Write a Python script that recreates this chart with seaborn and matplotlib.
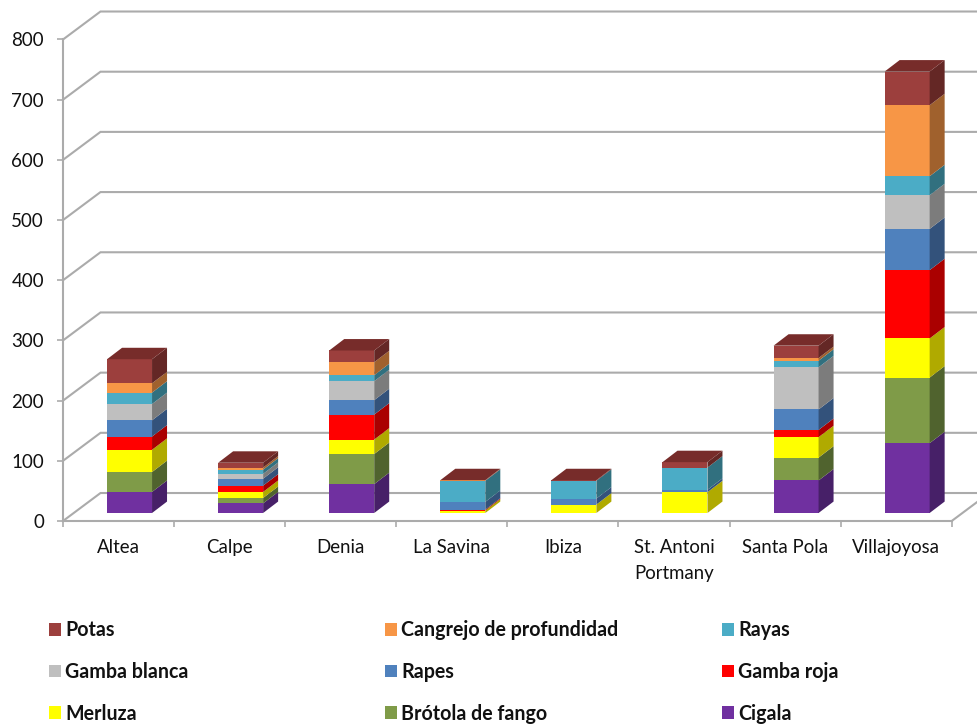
import numpy as np
import matplotlib
matplotlib.use("Agg")
import matplotlib.pyplot as plt
from matplotlib.patches import Patch, Polygon
import seaborn as sns

ports = ["Altea", "Calpe", "Denia", "La Savina", "Ibiza",
         "St. Antoni\nPortmany", "Santa Pola", "Villajoyosa"]

cigala = [35, 16, 48, 0, 0, 0, 54, 116]
brotola = [33, 9, 50, 0, 0, 0, 38, 109]
merluza = [37, 10, 24, 4, 14, 34.5, 34, 65]
gamba_roja = [22, 10.5, 41.5, 1.5, 0, 0, 12, 113.5]
rapes = [27, 11.5, 24, 13, 10, 4, 34, 68.5]
gamba_blanca = [27, 8, 31.5, 0, 0, 0, 70, 56]
rayas = [19, 7, 10, 35, 29.5, 37, 11, 31.5]
cangrejo = [15.5, 3.5, 21.5, 0.5, 0, 0, 4.5, 118]
potas = [40, 8, 19.5, 0.5, 1, 9, 20.5, 56]

# name, values, front colour, side colour (stacked bottom to top)
stack = [
    ("Cigala", cigala, "#7030A0", "#472068"),
    ("Brótola de fango", brotola, "#7F9B48", "#50632E"),
    ("Merluza", merluza, "#FFFF00", "#B0AA00"),
    ("Gamba roja", gamba_roja, "#FF0000", "#AA0000"),
    ("Rapes", rapes, "#4F81BD", "#33527B"),
    ("Gamba blanca", gamba_blanca, "#BFBFBF", "#7C7C7C"),
    ("Rayas", rayas, "#4BACC6", "#31707F"),
    ("Cangrejo de profundidad", cangrejo, "#F79646", "#A0612D"),
    ("Potas", potas, "#9C3F3D", "#642725"),
]
top_colour = "#772C2A"
legend_columns = [
    ["Potas", "Gamba blanca", "Merluza"],
    ["Cangrejo de profundidad", "Rapes", "Brótola de fango"],
    ["Rayas", "Gamba roja", "Cigala"],
]

sns.set_theme(style="white")
plt.rcParams["font.family"] = ["Lato", "DejaVu Sans"]

W, H = 977, 727
fig = plt.figure(figsize=(W / 100, H / 100), dpi=100)
ax = fig.add_axes([63 / W, 1 - 521 / H, 888.7 / W, 481.5 / H])
GRID = "#ABABAB"

# Pseudo-3D geometry in data units
WALL_DX, WALL_DY = 0.3375, 46.5
BAR_DX, BAR_DY = 0.135, 19.0
BAR_W = 0.405
BAR_SHIFT = 0.099
BAR_BASE = 13.3
x_right_edge = 7.5 + 26 / 111.1

# Back wall and floor lines
for v in range(0, 900, 100):
    ax.plot([-0.5, -0.5 + WALL_DX, x_right_edge], [v, v + WALL_DY, v + WALL_DY],
            color=GRID, lw=1.5, clip_on=False, zorder=1, solid_joinstyle="miter")
ax.plot([7.5, x_right_edge], [0, 26 * WALL_DY / (WALL_DX * 111.1)], color=GRID, lw=1.5,
        clip_on=False, zorder=1)

# Stacked front faces through seaborn, side faces and caps on top of them
xpos = np.arange(len(ports)) + BAR_SHIFT
bottom = np.full(len(ports), BAR_BASE)
for name, values, front, side in stack:
    vals = np.array(values, dtype=float)
    sns.barplot(x=xpos, y=vals, bottom=bottom, native_scale=True, width=BAR_W,
                color=front, saturation=1, errorbar=None, linewidth=0, ax=ax, zorder=3)
    for x0, b, v in zip(xpos, bottom, vals):
        if v <= 0:
            continue
        xr = x0 + BAR_W / 2
        ax.add_patch(Polygon([(xr, b), (xr + BAR_DX, b + BAR_DY),
                              (xr + BAR_DX, b + v + BAR_DY), (xr, b + v)],
                             closed=True, fc=side, ec="none", zorder=3))
    bottom = bottom + vals

for x0, t in zip(xpos, bottom):
    xl, xr = x0 - BAR_W / 2, x0 + BAR_W / 2
    ax.add_patch(Polygon([(xl, t), (xr, t), (xr + BAR_DX, t + BAR_DY), (xl + BAR_DX, t + BAR_DY)],
                         closed=True, fc=top_colour, ec="none", zorder=3))

# Axes
ax.set_xlim(-0.5, 7.5)
ax.set_ylim(0, 800)
ax.set_xlabel("")
ax.set_ylabel("")
sns.despine(ax=ax, top=True, right=True)
for s in ("left", "bottom"):
    ax.spines[s].set_color(GRID)
    ax.spines[s].set_linewidth(1.5)
    ax.spines[s].set_zorder(2)
ax.set_yticks(range(0, 900, 100))
ax.set_yticklabels([str(v) for v in range(0, 900, 100)], fontsize=13.5, color="#111111")
ax.set_xticks(np.arange(-0.5, 8, 1))
ax.set_xticklabels([])
ax.set_xticks(np.arange(len(ports)), minor=True)
ax.set_xticklabels(ports, minor=True, fontsize=13.4, color="#111111", linespacing=1.62)
ax.tick_params(axis="x", which="major", length=4.5, width=1.2, color=GRID, bottom=True)
ax.tick_params(axis="x", which="minor", length=0, pad=13, bottom=False)
ax.tick_params(axis="y", length=4.3, width=1.2, color=GRID, left=True, pad=9.3)
ax.patch.set_alpha(0)
ax.grid(False)

# One legend per column, so the columns sit at fixed positions
FS = 14.15
colours = {name: front for name, _, front, _ in stack}
for names, xpx in zip(legend_columns, (49, 385, 722)):
    handles = [Patch(fc=colours[n], ec="none") for n in names]
    leg = fig.legend(handles, names, loc="center left", frameon=False,
                     bbox_to_anchor=(xpx / W, 1 - 672 / H), bbox_transform=fig.transFigure,
                     borderpad=0, borderaxespad=0, handlelength=8.64 / FS, handleheight=8.64 / FS,
                     handletextpad=0.2, labelspacing=1.1,
                     prop={"family": "Lato", "weight": "bold", "size": FS})
    for t in leg.get_texts():
        t.set_color("#111111")

fig.savefig("out.png", dpi=100, facecolor="white")
